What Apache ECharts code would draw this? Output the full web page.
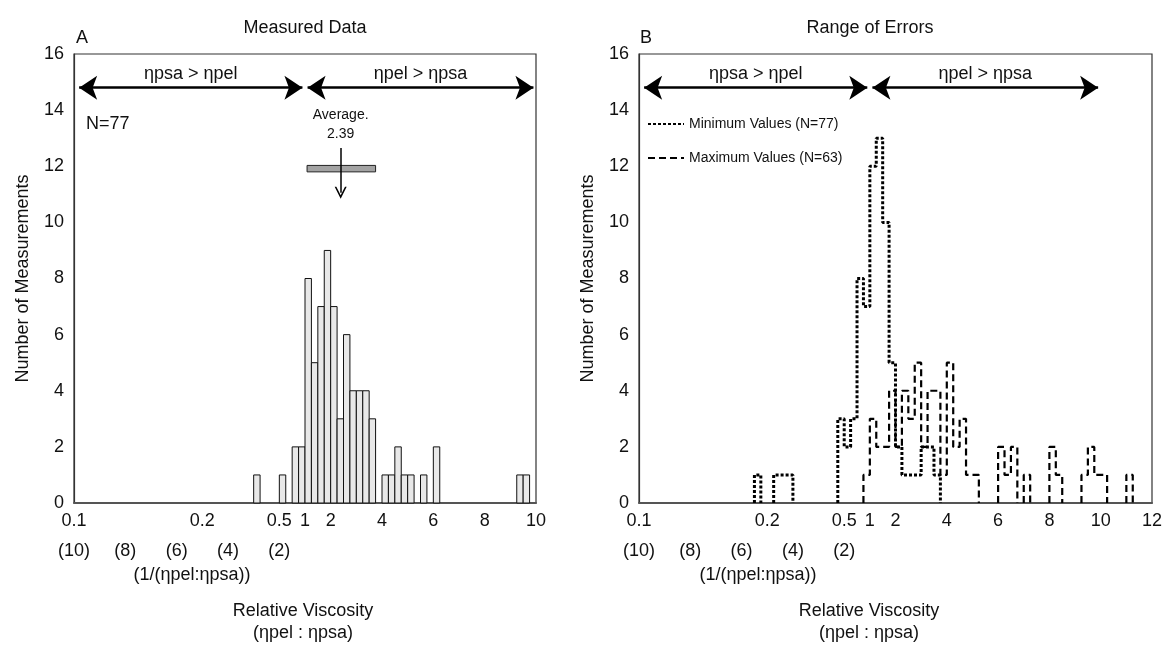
<!DOCTYPE html>
<html>
<head>
<meta charset="utf-8">
<script src="https://cdn.jsdelivr.net/npm/echarts@6/dist/echarts.min.js"></script>
<style>
  html, body { margin: 0; padding: 0; background: #fff; }
  #chart { width: 1170px; height: 647px; }
</style>
</head>
<body>
<div id="chart"></div>
<script>
// x positions use the figure's split scale:
// t >= 0 -> ratio = t + 1,  t < 0 -> 1 / ratio = 1 - t
const BIN = 0.25

// panel A - measured data (bin centres, counts)
const measuredBins = [-1.875, -0.875, -0.375, -0.125, 0.125, 0.375, 0.625, 0.875, 1.125, 1.375, 1.625, 1.875,
  2.125, 2.375, 2.625, 3.125, 3.375, 3.625, 3.875, 4.125, 4.625, 5.125, 8.375, 8.625]
const measuredCounts = [1, 1, 2, 2, 8, 5, 7, 9, 7, 3, 6, 4, 4, 4, 3, 1, 1, 2, 1, 1, 1, 2, 1, 1]
const averagePos = 1.39        // 2.39
const averageBand = [0.08, 2.75]

// panel B - range of errors
const minBins = [-4.375, -3.625, -3.375, -3.125, -1.125, -0.875, -0.625, -0.375, -0.125, 0.125, 0.375, 0.625,
  0.875, 1.125, 1.375, 1.625, 1.875, 2.125, 2.375, 2.625]
const minCounts = [1, 1, 1, 1, 3, 2, 3, 8, 7, 12, 13, 10, 5, 2, 1, 1, 1, 2, 2, 1]
const maxBins = [-0.125, 0.125, 0.375, 0.625, 0.875, 1.125, 1.375, 1.625, 1.875, 2.125, 2.375, 2.625, 2.875,
  3.125, 3.375, 3.625, 3.875, 4.125, 5.125, 5.375, 5.625, 6.125, 7.125, 7.375, 8.375, 8.625, 8.875, 9.125, 10.125]
const maxCounts = [1, 3, 2, 2, 4, 2, 4, 3, 5, 2, 4, 4, 1, 5, 2, 3, 1, 1, 2, 1, 2, 1, 2, 1, 1, 2, 1, 1, 1]

// tick labels
const ratioLabels = { '-9': '0.1', '-4': '0.2', '-1': '0.5', '0': '1', '1': '2', '3': '4', '5': '6', '7': '8', '9': '10', '11': '12' }
const inverseLabels = { '-9': '(10)', '-7': '(8)', '-5': '(6)', '-3': '(4)', '-1': '(2)' }
const regionLabels = ['\u03b7psa > \u03b7pel', '\u03b7pel > \u03b7psa']
const regionArrows = [[-8.8, -0.1], [0.1, 8.9]]
const regionY = 14.8

const FONT = '"Liberation Sans", Arial, sans-serif'
const INK = '#111'

const outline = (centers, counts) => {
  const pts = []
  let prev = null
  centers.forEach((c, i) => {
    const l = c - BIN / 2
    const r = c + BIN / 2
    if (prev === null || Math.abs(l - prev) > 1e-6) {
      if (prev !== null) pts.push([prev, 0], ['-', '-'])
      pts.push([l, 0])
    }
    pts.push([l, counts[i]], [r, counts[i]])
    prev = r
  })
  pts.push([prev, 0])
  return pts
}

const arrowLines = () => regionArrows.map((a, i) => [
  { coord: [a[0], regionY], label: { formatter: regionLabels[i] } },
  { coord: [a[1], regionY] }
])

const chevron = 'path://M0,10 L5,0 L10,10 L8.6,10 L5,2.8 L1.4,10 Z'

const xAxisBase = (gi, max) => ({
  type: 'value', gridIndex: gi, min: -9, max, interval: 1, position: 'bottom',
  axisTick: { show: false }, splitLine: { show: false }
})

const chart = echarts.init(document.getElementById('chart'))

chart.setOption({
  animation: false,
  textStyle: { fontFamily: FONT },
  grid: [
    { left: 74, width: 462, top: 54, bottom: 144, show: true, borderColor: '#333', borderWidth: 1.2 },
    { left: 639, width: 513, top: 54, bottom: 144, show: true, borderColor: '#333', borderWidth: 1.2 }
  ],
  xAxis: [
    { ...xAxisBase(0, 9),
      axisLine: { onZero: false, lineStyle: { color: '#555', width: 2 } },
      axisLabel: { fontSize: 18, color: INK, margin: 9, formatter: v => ratioLabels[v] || '' } },
    { ...xAxisBase(0, 9), offset: 30, axisLine: { show: false, onZero: false },
      axisLabel: { fontSize: 18, color: INK, margin: 9, formatter: v => inverseLabels[v] || '' } },
    { ...xAxisBase(1, 11),
      axisLine: { onZero: false, lineStyle: { color: '#555', width: 2 } },
      axisLabel: { fontSize: 18, color: INK, margin: 9, formatter: v => ratioLabels[v] || '' } },
    { ...xAxisBase(1, 11), offset: 30, axisLine: { show: false, onZero: false },
      axisLabel: { fontSize: 18, color: INK, margin: 9, formatter: v => inverseLabels[v] || '' } }
  ],
  yAxis: [0, 1].map(gi => ({
    type: 'value', gridIndex: gi, min: 0, max: 16, interval: 2, position: 'left',
    name: 'Number of Measurements', nameLocation: 'middle', nameGap: 42,
    nameTextStyle: { fontSize: 18, color: INK },
    axisLine: { onZero: false, lineStyle: { color: '#333', width: 1.2 } },
    axisTick: { show: false }, splitLine: { show: false },
    axisLabel: { fontSize: 18, color: INK, margin: 10 }
  })),
  legend: {
    data: ['Minimum Values (N=77)', 'Maximum Values (N=63)'],
    orient: 'vertical', left: 642, top: 112, itemGap: 20,
    itemWidth: 36, itemHeight: 10,
    itemStyle: { opacity: 0 },
    textStyle: { fontSize: 14, color: INK }
  },
  graphic: [
    { type: 'text', x: 305, y: 28, style: { text: 'Measured Data', font: '18px ' + FONT, fill: INK, align: 'center', verticalAlign: 'middle' } },
    { type: 'text', x: 870, y: 28, style: { text: 'Range of Errors', font: '18px ' + FONT, fill: INK, align: 'center', verticalAlign: 'middle' } },
    { type: 'text', x: 82, y: 38, style: { text: 'A', font: '18px ' + FONT, fill: INK, align: 'center', verticalAlign: 'middle' } },
    { type: 'text', x: 646, y: 38, style: { text: 'B', font: '18px ' + FONT, fill: INK, align: 'center', verticalAlign: 'middle' } },
    { type: 'text', x: 192, y: 575, style: { text: '(1/(\u03b7pel:\u03b7psa))', font: '18px ' + FONT, fill: INK, align: 'center', verticalAlign: 'middle' } },
    { type: 'text', x: 758, y: 575, style: { text: '(1/(\u03b7pel:\u03b7psa))', font: '18px ' + FONT, fill: INK, align: 'center', verticalAlign: 'middle' } },
    { type: 'text', x: 303, y: 622, style: { text: 'Relative Viscosity\n(\u03b7pel : \u03b7psa)', font: '18px ' + FONT, lineHeight: 22, fill: INK, align: 'center', verticalAlign: 'middle' } },
    { type: 'text', x: 869, y: 622, style: { text: 'Relative Viscosity\n(\u03b7pel : \u03b7psa)', font: '18px ' + FONT, lineHeight: 22, fill: INK, align: 'center', verticalAlign: 'middle' } }
  ],
  series: [
    {
      name: 'Measured',
      type: 'custom',
      xAxisIndex: 0, yAxisIndex: 0,
      data: measuredBins.map((b, i) => [b, measuredCounts[i]]),
      encode: { x: 0, y: 1 },
      renderItem: (params, api) => {
        const c = api.value(0)
        const p0 = api.coord([c - BIN / 2, api.value(1)])
        const p1 = api.coord([c + BIN / 2, 0])
        return {
          type: 'rect',
          shape: { x: p0[0], y: p0[1], width: p1[0] - p0[0], height: p1[1] - p0[1] },
          style: { fill: '#e8e8e8', stroke: '#111', lineWidth: 1 }
        }
      },
      markLine: {
        silent: true,
        symbol: ['arrow', 'arrow'], symbolSize: 18,
        lineStyle: { color: '#000', width: 2.5, type: 'solid' },
        label: { position: 'insideMiddleTop', distance: 5, fontSize: 18, color: INK },
        data: [
          ...arrowLines(),
          [
            { coord: [averagePos, 12.65], symbol: 'none',
              lineStyle: { width: 1.5 },
              label: { position: 'start', distance: 4, fontSize: 14, lineHeight: 19, formatter: 'Average.\n2.39' } },
            { coord: [averagePos, 11.06], symbol: chevron, symbolSize: 12 }
          ]
        ]
      },
      markArea: {
        silent: true,
        itemStyle: { color: '#a3a3a3', borderColor: '#222', borderWidth: 1 },
        data: [[{ coord: [averageBand[0], 12.03] }, { coord: [averageBand[1], 11.8] }]]
      },
      markPoint: {
        silent: true,
        symbol: 'rect', symbolSize: 1, itemStyle: { color: 'rgba(0,0,0,0)' },
        label: { show: true, position: 'right', distance: 0, fontSize: 18, color: INK, formatter: 'N=77' },
        data: [{ coord: [-8.55, 13.5] }]
      }
    },
    {
      name: 'Minimum Values (N=77)',
      type: 'line',
      xAxisIndex: 2, yAxisIndex: 1,
      data: outline(minBins, minCounts),
      symbol: 'none', connectNulls: false,
      itemStyle: { color: '#000' },
      lineStyle: { color: '#000', width: 3, type: [3, 2], cap: 'butt' },
      markLine: {
        silent: true,
        symbol: ['arrow', 'arrow'], symbolSize: 18,
        lineStyle: { color: '#000', width: 2.5, type: 'solid' },
        label: { position: 'insideMiddleTop', distance: 5, fontSize: 18, color: INK },
        data: arrowLines()
      }
    },
    {
      name: 'Maximum Values (N=63)',
      type: 'line',
      xAxisIndex: 2, yAxisIndex: 1,
      data: outline(maxBins, maxCounts),
      symbol: 'none', connectNulls: false,
      itemStyle: { color: '#000' },
      lineStyle: { color: '#000', width: 2.2, type: [7, 4] }
    }
  ]
})
</script>
</body>
</html>
